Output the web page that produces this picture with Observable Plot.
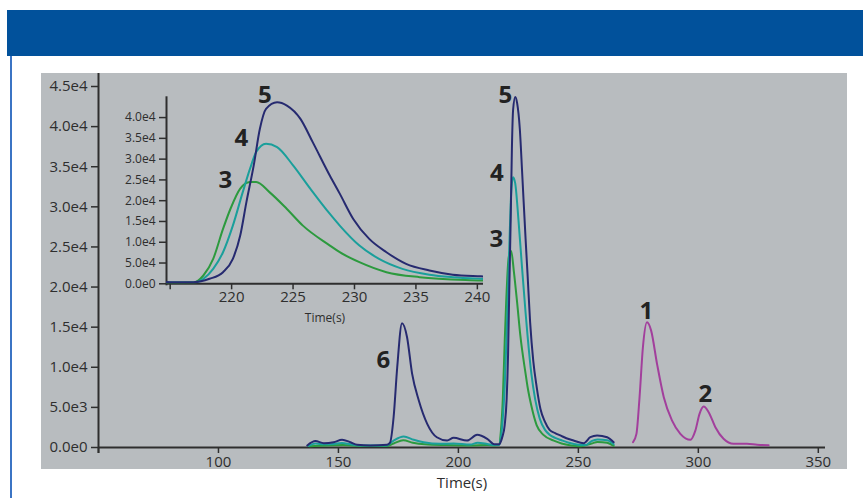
<!DOCTYPE html>
<html><head><meta charset="utf-8">
<script src="https://cdn.jsdelivr.net/npm/d3@7"></script>
<script src="https://cdn.jsdelivr.net/npm/@observablehq/plot@0.6"></script>
<style>
html,body{margin:0;padding:0;background:#fff;}
#wrap{position:relative;width:863px;height:498px;overflow:hidden;font-family:"Open Sans",sans-serif;}
#banner{position:absolute;left:7px;top:10px;width:856px;height:46px;background:#01519b;}
#border{position:absolute;left:10px;top:56px;width:1.5px;height:442px;background:#3b74c4;}
#panel{position:absolute;left:41px;top:73px;width:806px;height:396px;background:#b8bcbf;}
#main,#inset{position:absolute;}
#main{left:0;top:0;}
#inset{left:100px;top:80px;}
</style></head>
<body><div id="wrap"><div id="banner"></div><div id="border"></div><div id="panel"></div><div id="main"></div><div id="inset"></div></div>
<script>
// ---- Data ----
// Compound 5 / 6 (navy)
const navyT = [137,140.4,143.9,148,151.5,155,157.8,163.3,170.3,171.5,173,174.5,176.5,178.6,180.7,183.5,187,191,195.3,198,203.6,207.8,212,215,216.9,218.2,219.3,220.1,220.7,221.2,221.8,222.3,222.8,223.7,224.5,225.6,226.6,228.0,228.8,229.9,231.2,232.6,234.2,236.1,238.0,240.3,242.5,245,248,252.2,255,257.8,262,264.7];
const navyV = [250,800,540,660,960,660,340,250,340,600,3800,10000,15500,13750,9200,5860,2950,1280,870,1200,870,1580,1080,400,400,1200,2800,6000,11600,19600,28500,37300,42100,43700,42900,39700,34100,26000,21700,15600,10800,7600,4800,3200,2200,1800,1500,1150,870,540,1280,1500,1280,660];
// Compound 4 (teal)
const tealT = [137.5,140.4,144,148,151.5,155,160,170,173,177.2,181.4,185.5,192.5,198,205,208,212,215,216.9,217.7,218.5,219.3,220.1,220.9,221.5,222.0,222.8,223.7,225.0,226.4,228.0,228.8,230.4,232.0,233.9,236.1,238,240.3,243,246,250,253,255.5,258,262,264.7];
const tealV = [200,500,400,450,550,400,250,250,870,1370,960,660,460,500,370,600,450,300,300,1200,3600,7600,14000,22000,27700,31700,33700,32900,28500,22900,16800,14000,9200,6000,3600,2200,1600,1200,900,600,350,300,800,1000,900,400];
// Compound 3 (green)
const greenT = [138,145,152,160,170,173,177,181,186,195,205,212,215,216.9,217.7,218.5,219.3,219.9,220.7,221.5,222.0,223.1,224.5,225.8,228.0,228.8,230.4,232.6,235.3,240.3,243,247,251,255.5,258,262,264.7];
const greenV = [150,250,300,200,200,500,900,600,400,300,250,300,250,300,2000,6000,13200,18000,22900,24500,24500,22000,18000,14000,9200,7600,5200,2800,1600,800,500,250,150,500,700,600,200];
// Compounds 1 and 2 (magenta)
const magT = [272.8,274.2,275.5,276.9,278.6,280.3,282.8,285.6,289,292.5,296.7,298.75,300.5,302.2,304.3,307.1,310.5,314.7,320.3,324.5,329.3];
const magV = [660,1700,6270,12500,15600,14600,10400,6270,3370,1700,960,2100,4200,5100,4400,2530,1080,460,460,340,290];

// Axis ticks and labels
const mainXTicks = [50,100,150,200,250,300,350];
const mainXTickLabels = ["","100","150","200","250","300","350"];
const mainYTicks = [0,5000,10000,15000,20000,25000,30000,35000,40000,45000];
const mainYTickLabels = ["0.0e0","5.0e3","1.0e4","1.5e4","2.0e4","2.5e4","3.0e4","3.5e4","4.0e4","4.5e4"];
const insetXTicks = [215,220,225,230,235,240];
const insetXTickLabels = ["","220","225","230","235","240"];
const insetYTicks = [0,5000,10000,15000,20000,25000,30000,35000,40000];
const insetYTickLabels = ["0.0e0","5.0e4","1.0e4","1.5e4","2.0e4","2.5e4","3.0e4","3.5e4","4.0e4"];
const axisTitle = "Time(s)";

// Peak annotations (text placed in data coordinates)
const mainLabelText = ["5","4","3","6","1","2"];
const mainLabelT = [219.6,216.0,215.8,168.75,278.3,302.9];
const mainLabelV = [43880,34160,25930,10850,17020,6670];
const insetLabelText = ["5","4","3"];
const insetLabelT = [222.7,220.8,219.5];
const insetLabelV = [45320,34900,24860];

// ---- Build rows ----
const rows = (ts, vs) => ts.map((t, i) => ({t, v: vs[i]}));
const navy = rows(navyT, navyV), teal = rows(tealT, tealV), green = rows(greenT, greenV), mag = rows(magT, magV);
const mainLabels = mainLabelText.map((s, i) => ({s, t: mainLabelT[i], v: mainLabelV[i]}));
const insetLabels = insetLabelText.map((s, i) => ({s, t: insetLabelT[i], v: insetLabelV[i]}));

const C = {navy: "#262a70", teal: "#1a9f9b", green: "#2c9a3e", mag: "#a23f9c", axis: "#2e2e2e"};
const font = '"Open Sans", sans-serif';
const lineOpts = (color, clip) => ({x: "t", y: "v", stroke: color, strokeWidth: 2, curve: "monotone-x", clip});

const main = Plot.plot({
  width: 863, height: 498,
  marginLeft: 98, marginRight: 38, marginTop: 86, marginBottom: 51,
  style: {background: "transparent", fontFamily: font, fontSize: "15px", color: C.axis, overflow: "visible"},
  x: {domain: [50, 353]},
  y: {domain: [0, 45000]},
  marks: [
    Plot.ruleX([50], {stroke: C.axis, strokeWidth: 2, insetTop: -13, insetBottom: -6}),
    Plot.ruleY([0], {stroke: C.axis, strokeWidth: 2}),
    Plot.axisY({ticks: mainYTicks, tickFormat: d => mainYTickLabels[mainYTicks.indexOf(d)], tickSize: 7, tickPadding: 4, strokeWidth: 1.5, fontSize: 15, label: null}),
    Plot.axisX({ticks: mainXTicks, tickFormat: d => mainXTickLabels[mainXTicks.indexOf(d)], tickSize: 6, tickPadding: 3, strokeWidth: 1.5, fontSize: 15, label: null}),
    Plot.axisX({ticks: [], label: axisTitle, labelAnchor: "center", labelArrow: "none", labelOffset: 40, fontSize: 15}),
    Plot.line(green, lineOpts(C.green)),
    Plot.line(teal, lineOpts(C.teal)),
    Plot.line(navy, lineOpts(C.navy)),
    Plot.line(mag, lineOpts(C.mag)),
    Plot.text(mainLabels, {x: "t", y: "v", text: "s", fontSize: 24, fontWeight: "bold", fill: "#222"})
  ]
});
document.getElementById("main").appendChild(main);

const inset = Plot.plot({
  width: 400, height: 250,
  marginLeft: 66, marginRight: 17, marginTop: 16.3, marginBottom: 46.7,
  style: {background: "transparent", fontFamily: font, fontSize: "12px", color: C.axis, overflow: "visible"},
  x: {domain: [214.7, 240.5]},
  y: {domain: [0, 45000]},
  marks: [
    Plot.ruleX([214.7], {stroke: C.axis, strokeWidth: 2, insetBottom: -2}),
    Plot.ruleY([0], {stroke: C.axis, strokeWidth: 2}),
    Plot.axisY({ticks: insetYTicks, tickFormat: d => insetYTickLabels[insetYTicks.indexOf(d)], tickSize: 7, tickPadding: 4, strokeWidth: 1.5, fontSize: 12, label: null}),
    Plot.axisX({ticks: insetXTicks, tickFormat: d => insetXTickLabels[insetXTicks.indexOf(d)], tickSize: 6, tickPadding: 2, strokeWidth: 1.5, fontSize: 15, label: null}),
    Plot.axisX({ticks: [], label: axisTitle, labelAnchor: "center", labelArrow: "none", labelOffset: 38, fontSize: 12}),
    Plot.line(green, lineOpts(C.green, true)),
    Plot.line(teal, lineOpts(C.teal, true)),
    Plot.line(navy, lineOpts(C.navy, true)),
    Plot.text(insetLabels, {x: "t", y: "v", text: "s", fontSize: 24, fontWeight: "bold", fill: "#222"})
  ]
});
document.getElementById("inset").appendChild(inset);
</script>
</body></html>
